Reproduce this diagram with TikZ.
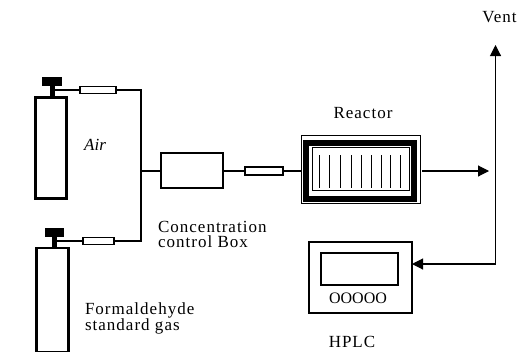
\documentclass[tikz,border=0pt]{standalone}
\usepackage{fontspec}
\setmainfont{Liberation Serif}
\newfontfamily\widefont[LetterSpace=6]{Liberation Serif}
\usetikzlibrary{arrows.meta,positioning}
\tikzset{
  every node/.style={outer sep=0pt},
  thin line/.style={line width=1.1pt,black},
  flow/.style={thin line,-{Triangle[length=11pt,width=11pt]}},
  cyl/.style={draw=black,line width=2.8pt,fill=white,minimum width=31pt,inner sep=0pt,anchor=north west},
  tube/.style={draw=black,line width=1.2pt,fill=white,inner sep=0pt,anchor=center},
  knob/.style={fill=black,inner sep=0pt,anchor=north west},
  box/.style={draw=black,line width=2pt,fill=white,inner sep=0pt,anchor=north west},
  lab/.style={font=\fontsize{17}{17}\widefont,inner sep=0pt,anchor=base},
  widelab/.style={font=\fontsize{17}{15.5}\widefont,inner sep=0pt,align=left,anchor=west}
}
\begin{document}
\begin{tikzpicture}[x=1pt,y=-1pt]
\useasboundingbox (0,0) rectangle (526,351);
% cylinders
\node[cyl,minimum height=101pt] (cylA) at (35.5,97.5) {};
\node[knob,minimum width=20pt,minimum height=9pt] (capA) at (42,77) {};
\node[knob,minimum width=5pt,minimum height=10pt] (stemA) at (49.5,86) {};
\node[cyl,minimum width=32pt,minimum height=104pt] (cylB) at (36.5,248) {};
\node[knob,minimum width=19pt,minimum height=8.5pt] (capB) at (45,228) {};
\node[knob,minimum width=5pt,minimum height=11pt] (stemB) at (51.5,236) {};
% tubes
\node[tube,minimum width=36pt,minimum height=7.5pt] (tubeA) at (98,90) {};
\node[tube,minimum width=31pt,minimum height=7.5pt] (tubeB) at (98.5,241) {};
\node[tube,minimum width=38pt,minimum height=8pt] (tubeC) at (264,171) {};
\coordinate (jA) at (141,90);
\coordinate (jB) at (141,241);
\coordinate (jM) at (141,171);
% control box
\node[box,minimum width=62pt,minimum height=35pt] (ctrl) at (160.5,153) {};
% reactor
\node[draw=black,line width=1pt,fill=white,inner sep=0pt,minimum width=119pt,minimum height=68pt,anchor=north west] (reactorOut) at (301,135.5) {};
\node[draw=black,line width=6pt,fill=white,inner sep=0pt,minimum width=107.5pt,minimum height=55.5pt,anchor=north west] (reactorMid) at (306,143) {};
\node[draw=black,line width=1pt,fill=white,inner sep=0pt,minimum width=97pt,minimum height=43pt,anchor=north west] (reactorIn) at (312,147) {};
\foreach \x in {319,329,340,351,361,371,381,390,400}
  \draw[line width=1pt] (\x,155) -- (\x,188);
% hplc
\node[box,minimum width=103.5pt,minimum height=71pt] (hplc) at (308.5,242) {};
\node[draw=black,line width=1.2pt,fill=white,inner sep=0pt,minimum width=77pt,minimum height=32pt,anchor=north west] (screen) at (321,253) {};
\node[inner sep=0pt,font=\fontsize{16}{16}\selectfont] (keys) at (358,298) {OOOOO};
% connectors
\coordinate (vTop) at (495.5,45);
\coordinate (vBot) at (495.5,264);
\coordinate (out) at (489,171);
\draw[thin line] (stemA.east |- tubeA) -- (tubeA);
\draw[thin line] (tubeA) -- (jA) -- (jB) -- (tubeB);
\draw[thin line] (tubeB) -- (stemB.east |- tubeB);
\draw[thin line] (jM) -- (ctrl.west |- jM);
\draw[thin line] (ctrl.east |- tubeC) -- (tubeC);
\draw[thin line] (tubeC) -- (reactorOut.west |- tubeC);
\draw[flow] (422,171) -- (out);
\draw[flow] (vBot) -- (vTop);
\draw[flow] (vBot) -- (hplc.east |- vBot);
% labels
\node[lab,font=\fontsize{17}{17}\itshape\selectfont] (air) at (95,150) {Air};
\node[lab] (reactorL) at (363,118) {Reactor};
\node[lab] (vent) at (499.5,22) {Vent};
\node[lab] (hplcL) at (352,347.5) {HPLC};
\node[widelab] (concL) at (158,234.5) {Concentration\\control Box};
\node[widelab] (formL) at (85,318.5) {Formaldehyde\\standard gas};
\end{tikzpicture}
\end{document}
